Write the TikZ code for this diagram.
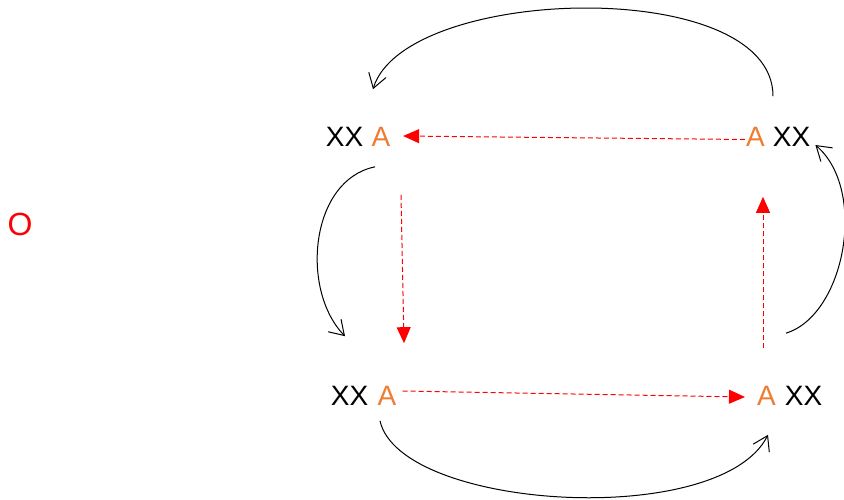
\documentclass[tikz,border=0pt]{standalone}
\usepackage{fontspec}
\setmainfont{Liberation Sans}
\usetikzlibrary{arrows.meta}
\definecolor{aorange}{RGB}{237,125,49}
\begin{document}
\begin{tikzpicture}[x=1pt,y=-1pt,
  lbl/.style={inner sep=0pt, font=\fontsize{28}{30}\selectfont},
  xx/.style={lbl,text=black},
  aa/.style={lbl,text=aorange},
  redlink/.style={draw=red, line width=1pt, dash pattern=on 5pt off 3pt, -{Triangle[length=16pt,width=14pt]}},
  cyclelink/.style={draw=black, line width=1pt, -{Straight Barb[length=14pt,width=18pt]}}
]
\useasboundingbox (0,0) rectangle (844,499);
% nodes
\node[lbl,text=red,font=\fontsize{32}{34}\selectfont] (o) at (20,224) {O};
\node[xx] (xxTL) at (344.5,136.5) {XX};
\node[aa] (aTL) at (381,136.5) {A};
\node[aa] (aTR) at (755.5,136.5) {A};
\node[xx] (xxTR) at (791.5,136.5) {XX};
\node[xx] (xxBL) at (349.5,396) {XX};
\node[aa] (aBL) at (387,396) {A};
\node[aa] (aBR) at (766.5,396) {A};
\node[xx] (xxBR) at (803.5,396) {XX};
% red dashed arrows
\draw[redlink] ([shift={(-1,3)}]aTR.west) -- ([shift={(12.6,-0.5)}]aTL.east);
\draw[redlink] ([shift={(20,48.5)}]aTL.south) -- ([shift={(17,-43)}]aBL.north);
\draw[redlink] ([shift={(6,-5)}]aBL.east) -- ([shift={(-12,1)}]aBR.west);
\draw[redlink] ([shift={(-3.5,-38)}]aBR.north) -- ([shift={(7.5,50.5)}]aTR.south);
% black curved arrows
\draw[cyclelink] ([shift={(-18.5,-30.5)}]xxTR.north) .. controls (773,-25) and (405,-15) .. ([shift={(-8,-37.5)}]aTL.north);
\draw[cyclelink] ([shift={(30.5,20.5)}]xxTL.south) .. controls (310,180) and (300,290) .. ([shift={(-4.5,-50)}]xxBL.north);
\draw[cyclelink] ([shift={(30.5,15)}]xxBL.south) .. controls (400,510) and (720,530) .. ([shift={(1.5,29)}]aBR.south);
\draw[cyclelink] ([shift={(-17.5,-53)}]xxBR.north) .. controls (845,315) and (868,190) .. ([shift={(5,8.5)}]xxTR.east);
\end{tikzpicture}
\end{document}
